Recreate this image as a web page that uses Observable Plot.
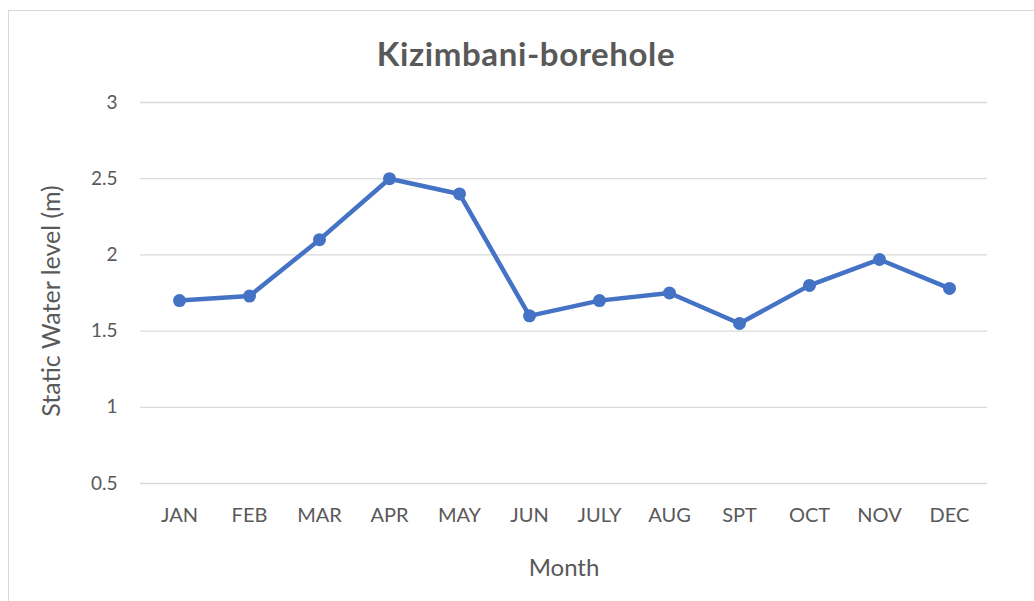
<!DOCTYPE html>
<html>
<head>
<meta charset="utf-8">
<script src="https://cdn.jsdelivr.net/npm/d3@7"></script>
<script src="https://cdn.jsdelivr.net/npm/@observablehq/plot@0.6"></script>
<style>
  html, body { margin: 0; padding: 0; background: #fff; }
  body { width: 1034px; height: 601px; overflow: hidden; position: relative; font-family: Lato, "Open Sans", sans-serif; }
  #box { position: absolute; left: 8px; top: 10px; width: 1040px; height: 620px; border: 1px solid #d9d9d9; box-sizing: border-box; }
  #title { position: absolute; left: 8px; width: 1036px; top: 33px; text-align: center; font-weight: bold; font-size: 33px; letter-spacing: 0.6px; color: #595959; }
  #chart { position: absolute; left: 8px; top: 85px; }
</style>
</head>
<body>
<div id="box"></div>
<div id="title">Kizimbani-borehole</div>
<div id="chart"></div>
<script>
const months = ["JAN","FEB","MAR","APR","MAY","JUN","JULY","AUG","SPT","OCT","NOV","DEC"];
const levels = [1.7, 1.73, 2.1, 2.5, 2.4, 1.6, 1.7, 1.75, 1.55, 1.8, 1.97, 1.78];
const yTicks = [0.5, 1, 1.5, 2, 2.5, 3];
const yTitle = "Static Water level (m)";
const xTitle = "Month";

const data = months.map((m, i) => ({month: m, level: levels[i]}));

const plot = Plot.plot({
  width: 1026,
  height: 516,
  marginLeft: 132,
  marginRight: 47,
  marginTop: 17,
  marginBottom: 118,
  style: {fontFamily: "Lato, 'Open Sans', sans-serif", fontSize: "19px", color: "#595959", background: "transparent"},
  x: {type: "point", domain: months, padding: 0.5, label: null},
  y: {domain: [0.5, 3], label: null},
  marks: [
    Plot.gridY(yTicks, {stroke: "#d9d9d9", strokeOpacity: 1, strokeWidth: 1.3}),
    Plot.axisY(yTicks, {tickSize: 0, tickPadding: 23, tickFormat: d => String(d), fill: "#595959", fontSize: 19, label: null}),
    Plot.text([yTitle], {frameAnchor: "left", text: d => d, rotate: -90, dx: -89, dy: 8,
      fill: "#595959", fontSize: 25, textAnchor: "middle", lineAnchor: "middle"}),
    Plot.axisX({tickSize: 0, tickPadding: 24, fill: "#595959", fontSize: 20, label: null}),
    Plot.axisX([], {tickSize: 0, fill: "#595959", fontSize: 24,
      label: xTitle, labelAnchor: "center", labelArrow: "none", labelOffset: 92}),
    Plot.line(data, {x: "month", y: "level", stroke: "#4472C4", strokeWidth: 4.5}),
    Plot.dot(data, {x: "month", y: "level", fill: "#4472C4", r: 6.5})
  ]
});
document.getElementById("chart").appendChild(plot);
</script>
</body>
</html>
